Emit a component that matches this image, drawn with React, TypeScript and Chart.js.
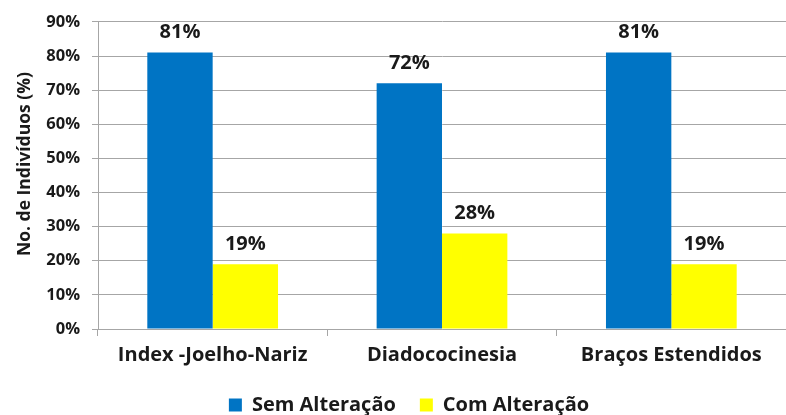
import React, { useEffect, useRef } from "react";
import { Chart, registerables } from "chart.js";

Chart.register(...registerables);

const categories = ["Index -Joelho-Nariz", "Diadococinesia", "Braços Estendidos"];
const semAlteracao = [81, 72, 81];
const comAlteracao = [19, 28, 19];
const seriesNames = ["Sem Alteração", "Com Alteração"];
const yTitle = "     No. de Indivíduos (%)";

const FONT = "'Open Sans', sans-serif";

const dataLabels = {
  id: "dataLabels",
  afterDatasetsDraw(chart: any) {
    const ctx = chart.ctx;
    ctx.save();
    ctx.font = `bold 20px ${FONT}`;
    ctx.fillStyle = "#1a1a1a";
    ctx.textAlign = "center";
    ctx.textBaseline = "middle";
    chart.data.datasets.forEach((ds: any, i: number) => {
      const meta = chart.getDatasetMeta(i);
      meta.data.forEach((bar: any, j: number) => {
        ctx.fillText(ds.data[j] + "%", bar.x, bar.y - 20);
      });
    });
    ctx.restore();
  },
};

export default function App() {
  const ref = useRef<HTMLCanvasElement>(null);
  useEffect(() => {
    const chart = new Chart(ref.current!, {
      type: "bar",
      data: {
        labels: categories,
        datasets: [
          {
            label: seriesNames[0],
            data: semAlteracao,
            backgroundColor: "#0074C4",
            categoryPercentage: 0.57,
            barPercentage: 1,
          },
          {
            label: seriesNames[1],
            data: comAlteracao,
            backgroundColor: "#FFFF00",
            categoryPercentage: 0.57,
            barPercentage: 1,
          },
        ],
      },
      options: {
        animation: false,
        responsive: false,
        maintainAspectRatio: false,
        layout: { padding: { top: 5, right: 0, left: 32, bottom: -10 } },
        plugins: {
          tooltip: { enabled: false },
          legend: {
            position: "bottom",
            labels: {
              font: { family: FONT, size: 20, weight: "bold" },
              color: "#1a1a1a",
              boxWidth: 13,
              boxHeight: 13,
              padding: 24,
            },
          },
        },
        scales: {
          x: {
            grid: { display: true, drawOnChartArea: false, tickLength: 7, color: "#a6a6a6", offset: true },
            border: { color: "#a6a6a6" },
            ticks: {
              font: { family: FONT, size: 20, weight: "bold" },
              color: "#1a1a1a",
              padding: 7,
            },
            afterFit(scale: any) {
              scale.height = 42;
            },
          },
          y: {
            min: 0,
            max: 90,
            ticks: {
              stepSize: 10,
              callback: (v: any) => v + "%",
              font: { family: FONT, size: 16.5, weight: "bold" },
              color: "#1a1a1a",
              padding: 12,
            },
            grid: { color: "#a6a6a6", tickLength: 6 },
            border: { color: "#a6a6a6" },
            title: {
              display: true,
              text: yTitle,
              font: { family: FONT, size: 17.5, weight: "bold" },
              color: "#1a1a1a",
              padding: { top: -17, bottom: 0 },
            },
            afterFit(scale: any) {
              scale.width = 66;
            },
          },
        },
      },
      plugins: [dataLabels],
    });
    return () => chart.destroy();
  }, []);
  return (
    <div style={{ position: "fixed", left: 0, top: 0, width: 786, height: 415, background: "#fff" }}>
      <canvas ref={ref} width={786} height={415} />
    </div>
  );
}
